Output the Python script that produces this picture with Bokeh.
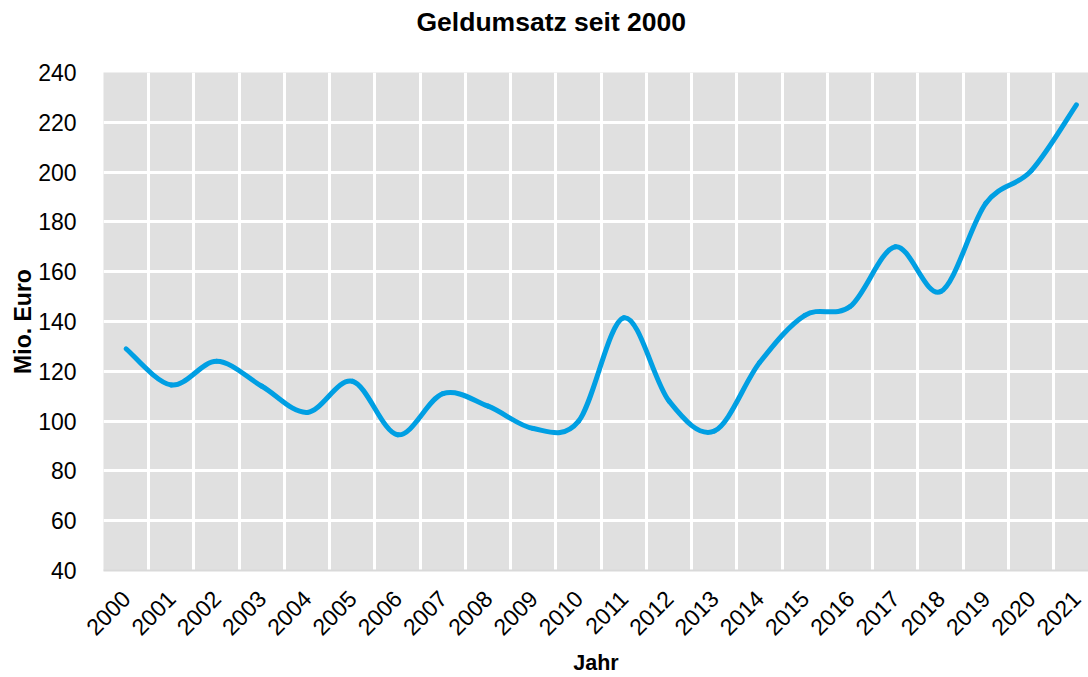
import math
import numpy as np
from bokeh.plotting import figure
from bokeh.models import FixedTicker, Range1d
from bokeh.embed import file_html
from bokeh.resources import INLINE

# ---- data ----
years = [str(y) for y in range(2000, 2022)]
umsatz = [129, 114.5, 124, 114, 103.5, 116, 94.5, 111, 106, 97, 100,
          141.5, 108, 96, 123.5, 142.5, 146, 170, 152, 187.5, 200.5, 227]
y_ticks = [40, 60, 80, 100, 120, 140, 160, 180, 200, 220, 240]
title_text = "Geldumsatz seit 2000"
y_label = "Mio. Euro"
x_label = "Jahr"

FONT = "Liberation Sans"
LINE_COLOR = "#009fe3"

n = len(years)
xs = np.arange(n, dtype=float)
ys = np.array(umsatz, dtype=float)

# smooth (Catmull-Rom style) bezier segments between the data points
x0, y0, x1, y1, cx0, cy0, cx1, cy1 = [], [], [], [], [], [], [], []
for i in range(n - 1):
    pa = (xs[max(i - 1, 0)], ys[max(i - 1, 0)])
    pb = (xs[i], ys[i])
    pc = (xs[i + 1], ys[i + 1])
    pd = (xs[min(i + 2, n - 1)], ys[min(i + 2, n - 1)])
    x0.append(pb[0]); y0.append(pb[1])
    x1.append(pc[0]); y1.append(pc[1])
    cx0.append(pb[0] + (pc[0] - pa[0]) / 6.0)
    cy0.append(pb[1] + (pc[1] - pa[1]) / 6.0)
    cx1.append(pc[0] - (pd[0] - pb[0]) / 6.0)
    cy1.append(pc[1] - (pd[1] - pb[1]) / 6.0)

p = figure(width=1088, height=677, output_backend="svg", toolbar_location=None,
           x_range=Range1d(-0.5, 21.268), y_range=Range1d(y_ticks[0], y_ticks[-1]),
           min_border_left=103, min_border_right=0, min_border_top=72,
           min_border_bottom=105, background_fill_color="#e0e0e0",
           border_fill_color="white", outline_line_color=None)

p.bezier(x0=x0, y0=y0, x1=x1, y1=y1, cx0=cx0, cy0=cy0, cx1=cx1, cy1=cy1,
         line_color=LINE_COLOR, line_width=5, line_cap="round")

# title (an empty second line keeps it well above the plot area)
p.title.text = title_text + "\n"
p.title.align = "left"
p.title.offset = 313
p.title.vertical_align = "top"
p.title.text_font = FONT
p.title.text_font_size = "26.5px"
p.title.text_font_style = "bold"
p.title.text_color = "black"
p.title.standoff = 8

# x axis
p.xaxis.ticker = FixedTicker(ticks=list(range(n)))
p.xaxis.major_label_overrides = {i: years[i] for i in range(n)}
p.xaxis.major_label_orientation = math.pi / 4
p.xaxis.major_label_text_font = FONT
p.xaxis.major_label_text_font_size = "23px"
p.xaxis.major_label_text_color = "black"
p.xaxis.major_label_standoff = 18
p.xaxis.axis_label = x_label
p.xaxis.axis_label_text_font = FONT
p.xaxis.axis_label_text_font_size = "21.5px"
p.xaxis.axis_label_text_font_style = "bold"
p.xaxis.axis_label_text_color = "black"
p.xaxis.axis_label_standoff = 5
p.xaxis.axis_line_color = "#d9d9d9"
p.xaxis.axis_line_width = 2
p.xaxis.major_tick_line_color = None
p.xaxis.minor_tick_line_color = None

# y axis
p.yaxis.ticker = FixedTicker(ticks=y_ticks)
p.yaxis.major_label_text_font = FONT
p.yaxis.major_label_text_font_size = "23px"
p.yaxis.major_label_text_color = "black"
p.yaxis.major_label_standoff = 21
p.yaxis.axis_label = y_label
p.yaxis.axis_label_text_font = FONT
p.yaxis.axis_label_text_font_size = "23px"
p.yaxis.axis_label_text_font_style = "bold"
p.yaxis.axis_label_text_color = "black"
p.yaxis.axis_label_standoff = -1
p.yaxis.axis_line_color = None
p.yaxis.major_tick_line_color = None
p.yaxis.minor_tick_line_color = None

# grids: vertical lines between categories, horizontal at inner ticks
p.xgrid.ticker = FixedTicker(ticks=[i + 0.5 for i in range(n - 1)])
p.xgrid.grid_line_color = "white"
p.xgrid.grid_line_width = 3
p.ygrid.ticker = FixedTicker(ticks=y_ticks[1:-1])
p.ygrid.grid_line_color = "white"
p.ygrid.grid_line_width = 3

open("out.html", "w").write(file_html(p, INLINE))
